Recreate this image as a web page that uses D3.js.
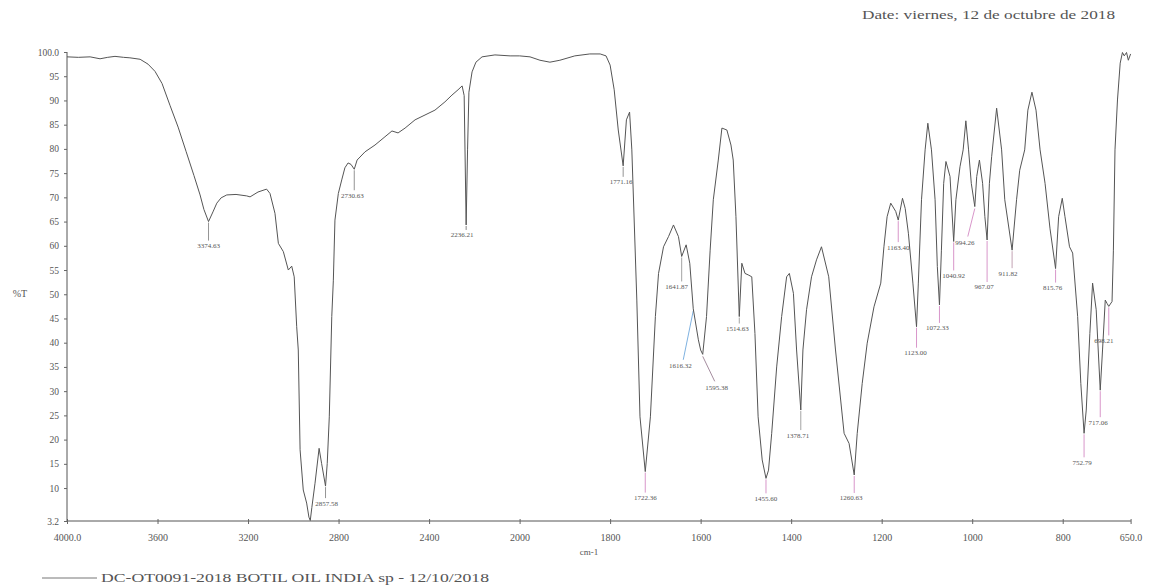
<!DOCTYPE html>
<html><head><meta charset="utf-8">
<script src="https://cdn.jsdelivr.net/npm/d3@7"></script>
<style>
html,body{margin:0;padding:0;background:#fff;}
svg{display:block;font-family:"Liberation Serif","DejaVu Serif",serif;}
</style></head>
<body><svg id="c" width="1150" height="588"></svg>
<script>
// ---------------- data ----------------
const wavenumber = [4000,3950,3898,3854,3820,3788,3750,3722,3677,3642,3611,3580,3545,3509,3474,3439,3412,3395,3374.63,3355,3338,3319,3294,3253,3206,3191,3156,3118,3103,3081,3066,3044,3022,3007,2996,2985,2978,2970,2956,2941,2931,2925,2918,2904,2886,2875,2857.58,2850,2841,2830,2823,2816,2801,2786,2772,2758,2745,2730.63,2718,2683,2639,2595,2564,2537,2506,2462,2418,2374,2330,2299,2272,2254,2245,2236.21,2230,2224,2210,2193,2166,2109,2042,2000,1977,1955,1933,1911,1878,1845,1822,1809,1800,1791,1782,1771.16,1764,1757,1752,1741,1734,1722.36,1711,1700,1693,1682,1671,1660,1649,1641.87,1632,1624,1616.32,1605,1600,1595.38,1587,1579,1572,1561,1553,1542,1533,1528,1522,1514.63,1509,1502,1495,1487,1480,1473,1464,1455.60,1450,1443,1432,1421,1410,1404,1395,1388,1378.71,1374,1366,1355,1344,1333,1317,1302,1283,1272,1260.63,1254,1243,1232,1217,1202,1195,1188,1180,1169,1163.40,1154,1148,1141,1131,1123.00,1119,1112,1104,1098,1090,1082,1077,1072.33,1068,1063,1058,1049,1040.92,1036,1027,1020,1014,1008,1002,994.26,990,984,977,972,967.07,962,957,946,935,928,911.82,902,895,884,877,868,859,850,839,828,815.76,809,801,795,785,778,767,760,752.79,748,740,734,726,717.06,712,706,702,698.21,691,688,684.5,679,673,668,664,659,655,650];
const transmittance = [99.0,98.9,99.0,98.6,98.9,99.1,98.9,98.8,98.5,97.5,96.0,93.5,89.0,84.5,79.5,74.5,70.5,67.5,65.0,67.0,68.8,69.9,70.5,70.6,70.3,70.1,71.1,71.7,70.8,66.7,60.5,58.8,55.0,55.8,53.6,43.3,38.5,17.9,9.6,6.9,4.0,3.3,6.0,11.0,18.2,15.1,10.4,15.1,24.7,45.4,52.9,65.3,70.8,73.6,76.1,77.1,76.8,75.8,77.7,79.4,80.8,82.5,83.7,83.3,84.3,86.0,87.0,88.0,89.7,91.1,92.2,93.0,91.0,64.3,79.8,91.7,95.9,97.9,99.0,99.4,99.2,99.2,99.0,98.3,97.9,98.3,99.2,99.6,99.6,99.2,97.3,92.2,83.9,76.5,86.0,87.6,79.8,48.8,24.7,13.4,24.7,45.4,54.3,59.8,61.9,64.3,61.9,57.8,60.2,56.4,47.0,40.6,38.5,37.6,45.4,59.1,69.5,77.7,84.3,83.9,80.8,77.7,66.0,45.4,56.4,54.3,54.0,53.6,41.9,24.7,15.8,12.0,13.7,21.3,35.0,45.4,53.6,54.3,50.2,38.5,26.1,38.5,46.8,53.6,57.1,59.8,53.6,38.5,21.3,19.2,12.7,21.3,31.6,39.9,47.4,52.3,59.8,66.0,68.8,67.1,65.3,69.8,67.7,62.6,52.3,43.3,52.3,69.5,79.8,85.3,79.8,69.5,55.7,47.8,59.1,72.9,77.4,74.3,60.9,69.5,76.3,79.8,85.8,79.8,72.9,68.1,74.3,77.7,72.9,66.0,61.2,72.9,78.4,88.4,79.8,69.5,59.1,69.5,75.6,79.8,88.0,91.7,88.0,79.8,72.9,63.5,55.3,66.0,69.8,66.0,59.8,58.5,45.4,31.6,21.3,26.1,41.9,52.3,46.8,30.2,38.5,48.8,48.1,47.5,48.5,59.1,79.8,90.1,97.7,99.9,99.2,99.9,98.3,99.6];

const xTickValues = [4000,3600,3200,2800,2400,2000,1800,1600,1400,1200,1000,800,650];
const xTickLabels = ["4000.0","3600","3200","2800","2400","2000","1800","1600","1400","1200","1000","800","650.0"];
const yTickValues = [3.2,10,15,20,25,30,35,40,45,50,55,60,65,70,75,80,85,90,95,100];
const yTickLabels = ["3.2","10","15","20","25","30","35","40","45","50","55","60","65","70","75","80","85","90","95","100.0"];

const peakWn   = [3374.63,2730.63,2857.58,2236.21,1771.16,1722.36,1641.87,1616.32,1595.38,1514.63,1455.60,1378.71,1260.63,1163.40,1123.00,1072.33,1040.92,994.26,967.07,911.82,815.76,752.79,717.06,698.21];
const peakText = ["3374.63","2730.63","2857.58","2236.21","1771.16","1722.36","1641.87","1616.32","1595.38","1514.63","1455.60","1378.71","1260.63","1163.40","1123.00","1072.33","1040.92","994.26","967.07","911.82","815.76","752.79","717.06","698.21"];

const dateText = "Date: viernes, 12 de octubre de 2018";
const legendText = "DC-OT0091-2018 BOTIL OIL INDIA sp - 12/10/2018";
const xTitle = "cm-1";
const yTitle = "%T";

// ---------------- layout (not data) ----------------
// label offsets: [dx, dy of label centre from curve point, stem colour, leader type]
const labelLayout = {
  "3374.63":[0,24,"#888"], "2730.63":[-2,26,"#888"], "2857.58":[1,17,"#888"], "2236.21":[-4,10,"#777"],
  "1771.16":[-2,16,"#888"], "1722.36":[0,26,"#d48ac4"], "1641.87":[-5,30,"#999"], "1616.32":[-13,57,"#6fa8dc","lead"],
  "1595.38":[14,33,"#9a7f93","lead"], "1514.63":[-2,12,"#999"], "1455.60":[0,20,"#d48ac4"], "1378.71":[-3,25,"#999"],
  "1260.63":[-3,23,"#d48ac4"], "1163.40":[0,27,"#d48ac4"], "1123.00":[-1,26,"#d48ac4"], "1072.33":[-2,23,"#d48ac4"],
  "1040.92":[0,34,"#d48ac4"], "994.26":[-10,36,"#d48ac4","lead"], "967.07":[-3,47,"#d48ac4"], "911.82":[-4,23,"#b9a"],
  "815.76":[-3,19,"#d48ac4"], "752.79":[-2,29,"#d48ac4"], "717.06":[-2,32,"#d48ac4"], "698.21":[-5,34,"#d48ac4"]
};

// ---------------- drawing ----------------
const svg = d3.select("#c");
const x = d3.scaleLinear().domain([4000,2000,650]).range([67,519.6,1130.6]);
const y = d3.scaleLinear().domain([3.2,100]).range([521,52]);

const data = wavenumber.map((w,i)=>({w, t:transmittance[i]}));

// axes
const xAxis = d3.axisBottom(x).tickValues(xTickValues).tickSize(3).tickPadding(10)
  .tickFormat((d,i)=>xTickLabels[i]);
const gx = svg.append("g").attr("transform","translate(0,521)").call(xAxis);
gx.select(".domain").attr("stroke","#555").attr("d","M67,0H1131");
gx.selectAll(".tick line").attr("stroke","#666").attr("y1",-2);
gx.selectAll("text").attr("font-size",10).attr("fill","#555").attr("font-family","Liberation Serif");

const yAxis = d3.axisLeft(y).tickValues(yTickValues).tickSize(3).tickPadding(5)
  .tickFormat((d,i)=>yTickLabels[i]);
const gy = svg.append("g").attr("transform","translate(67,0)").call(yAxis);
gy.select(".domain").attr("stroke","#555").attr("d","M0,52V521");
gy.selectAll(".tick line").attr("stroke","#666");
gy.selectAll("text").attr("font-size",9.5).attr("fill","#555").attr("font-family","Liberation Serif");

svg.append("text").attr("x",20).attr("y",y(50)+3).attr("text-anchor","middle")
  .attr("font-size",10).attr("fill","#555").text(yTitle);
svg.append("text").attr("x",589).attr("y",555).attr("text-anchor","middle")
  .attr("font-size",9).attr("fill","#555").text(xTitle);

// peak annotations (stems under curve)
const findT = w => {
  let best = data[0];
  data.forEach(p=>{ if (Math.abs(p.w-w) < Math.abs(best.w-w)) best = p; });
  return best.t;
};
const gLab = svg.append("g");
peakWn.forEach((w,i)=>{
  const t = findT(w);
  const txt = peakText[i];
  const L = labelLayout[txt] || [0,20,"#888"];
  const px = x(w), py = y(t);
  const lx = px + L[0], ly = py + L[1];
  if (L[3]==="lead") {
    gLab.append("line").attr("x1",px).attr("y1",py+2).attr("x2",lx+ (L[0]<0?3:-2)).attr("y2",ly-6)
      .attr("stroke",L[2]).attr("stroke-width",0.9);
  } else {
    gLab.append("line").attr("x1",px).attr("y1",py+1).attr("x2",px).attr("y2",ly-5)
      .attr("stroke",L[2]).attr("stroke-width",0.9);
  }
  gLab.append("text").attr("x",lx).attr("y",ly+2.5).attr("text-anchor","middle")
    .attr("font-size",7).attr("fill","#555").text(txt);
});

// spectrum line
svg.append("path").datum(data)
  .attr("fill","none").attr("stroke","#555").attr("stroke-width",1).attr("stroke-linejoin","round")
  .attr("d", d3.line().x(d=>x(d.w)).y(d=>y(d.t)));

// date
svg.append("text").attr("x",862).attr("y",19).attr("font-size",11.5).attr("fill","#555")
  .attr("textLength",253).attr("lengthAdjust","spacingAndGlyphs").text(dateText);

// legend
svg.append("line").attr("x1",42).attr("x2",97).attr("y1",578).attr("y2",578).attr("stroke","#777").attr("stroke-width",1);
svg.append("text").attr("x",101).attr("y",582).attr("font-size",12.5).attr("fill","#555")
  .attr("textLength",388).attr("lengthAdjust","spacingAndGlyphs").text(legendText);
</script></body></html>
